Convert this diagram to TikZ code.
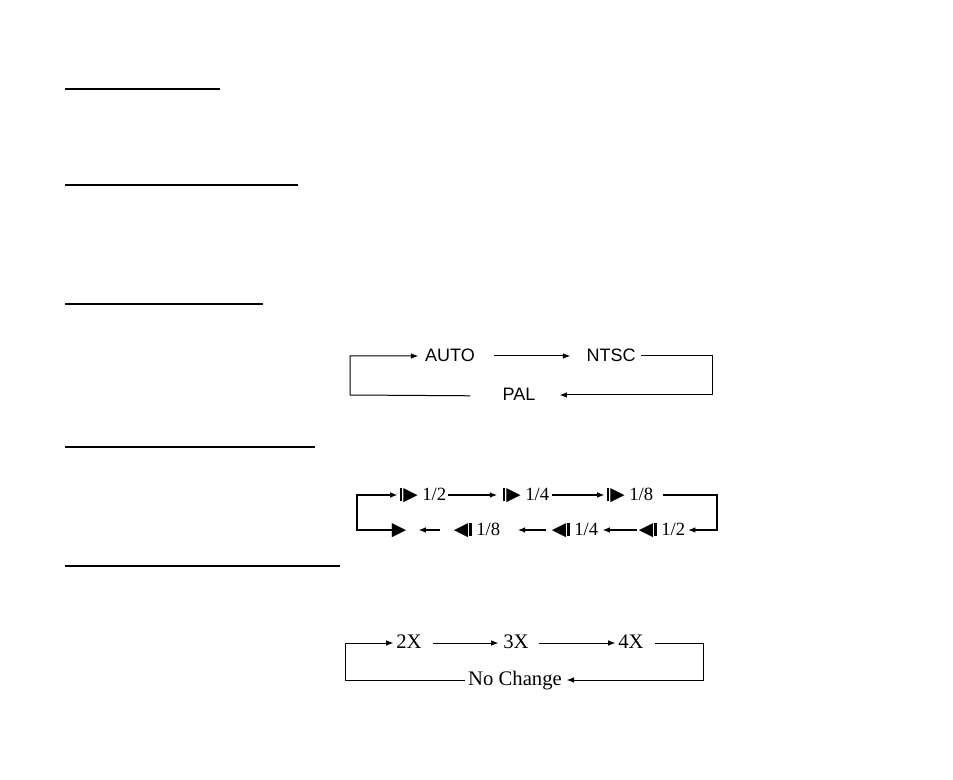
\documentclass[tikz,border=0pt]{standalone}
\usepackage{fontspec}
\setmainfont{Liberation Serif}
\newfontfamily\arialfont{Liberation Sans}
\newfontfamily\trifont{DejaVu Sans}
\usepackage{tikz}
\usetikzlibrary{arrows.meta}

\newcommand{\fwdplay}{\rule{1.8pt}{9.5pt}\kern0.8pt{\trifont ▶}}
\newcommand{\revplay}{{\trifont ◀}\kern0.8pt\rule{1.8pt}{9.5pt}}

\begin{document}
\begin{tikzpicture}[x=0.75pt,y=-0.75pt,
    lbl/.style={inner sep=0pt, text height=0.68em, text depth=0pt},
    flow/.style={line width=0.75pt, -{Latex[length=5.5pt,width=4.2pt]}},
    heavy/.style={line width=1pt, -{Latex[length=5.5pt,width=4.2pt]}},
    rule/.style={line width=1.5pt}]
    \useasboundingbox (0,0) rectangle (953,780);

    % section rules
    \draw[rule] (65, 89) -- (220, 89);
    \draw[rule] (65,185) -- (298,185);
    \draw[rule] (65,304) -- (263,304);
    \draw[rule] (65,447) -- (315,447);
    \draw[rule] (65,566) -- (340,566);

    % TV system
    \begin{scope}[every node/.style={lbl, font=\arialfont\fontsize{13.5}{16}\selectfont}]
        \node (auto) at (450,357) {AUTO};
        \node (ntsc) at (611,357) {NTSC};
        \node (pal)  at (519,396) {PAL};
    \end{scope}
    \coordinate (c1tl) at (350,356);
    \coordinate (c1bl) at (350,395);
    \coordinate (c1tr) at (712,356);
    \coordinate (c1br) at (712,395);

    \draw[flow, shorten <=24pt, shorten >=5pt]  (pal.west)  -- (c1bl) -- (c1tl) -- (auto.west |- c1tl);
    \draw[flow, shorten <=14pt, shorten >=12pt] (auto.east |- c1tl) -- (ntsc.west |- c1tl);
    \draw[flow, shorten <=4pt,  shorten >=18pt] (ntsc.east |- c1tr) -- (c1tr) -- (c1br) -- (pal.east |- c1br);

    % slow motion
    \begin{scope}[every node/.style={lbl, font=\fontsize{14}{17}\selectfont}]
        \node (f12)  at (423,496) {\fwdplay\ 1/2};
        \node (f14)  at (526,496) {\fwdplay\ 1/4};
        \node (f18)  at (630,496) {\fwdplay\ 1/8};

        \node (play) at (399,531) {{\trifont ▶}};
        \node (r18)  at (477,531) {\revplay\ 1/8};
        \node (r14)  at (575,531) {\revplay\ 1/4};
        \node (r12)  at (662,531) {\revplay\ 1/2};
    \end{scope}
    \coordinate (c2tl) at (357,495);
    \coordinate (c2bl) at (357,530);
    \coordinate (c2tr) at (717,495);
    \coordinate (c2br) at (717,530);

    \draw[heavy, shorten >=1.5pt] (play.west |- c2bl) -- (c2bl) -- (c2tl) -- (f12.west |- c2tl);
    \draw[heavy, shorten <=1.5pt, shorten >=4pt]   (f12.east |- c2tl) -- (f14.west |- c2tl);
    \draw[heavy, shorten <=2pt,   shorten >=1.5pt] (f14.east |- c2tl) -- (f18.west |- c2tl);
    \draw[heavy, shorten <=7.5pt, shorten >=2pt]   (f18.east |- c2tr) -- (c2tr) -- (c2br) -- (r12.east |- c2br);
    \draw[heavy, shorten <=1.5pt, shorten >=3pt]   (r12.west |- c2br) -- (r14.east |- c2br);
    \draw[heavy, shorten <=4.5pt, shorten >=13pt]  (r14.west |- c2br) -- (r18.east |- c2br);
    \draw[heavy, shorten <=10pt,  shorten >=9pt]   (r18.west |- c2br) -- (play.east |- c2br);

    % zoom
    \begin{scope}[every node/.style={lbl, font=\fontsize{15.5}{18}\selectfont}]
        \node (x2) at (409,644) {2X};
        \node (x3) at (516,644) {3X};
        \node (x4) at (631,644) {4X};
        \node (nochange) at (515,681) {No Change};
    \end{scope}
    \coordinate (c3tl) at (345,643);
    \coordinate (c3bl) at (345,680);
    \coordinate (c3tr) at (703,643);
    \coordinate (c3br) at (703,680);

    \draw[flow, shorten <=2pt, shorten >=2pt]   (nochange.west |- c3bl) -- (c3bl) -- (c3tl) -- (x2.west |- c3tl);
    \draw[flow, shorten <=8pt, shorten >=3.5pt] (x2.east |- c3tl) -- (x3.west |- c3tl);
    \draw[flow, shorten <=7.5pt, shorten >=2pt] (x3.east |- c3tl) -- (x4.west |- c3tl);
    \draw[flow, shorten <=8.5pt, shorten >=3.5pt] (x4.east |- c3tr) -- (c3tr) -- (c3br) -- (nochange.east |- c3br);
\end{tikzpicture}
\end{document}
